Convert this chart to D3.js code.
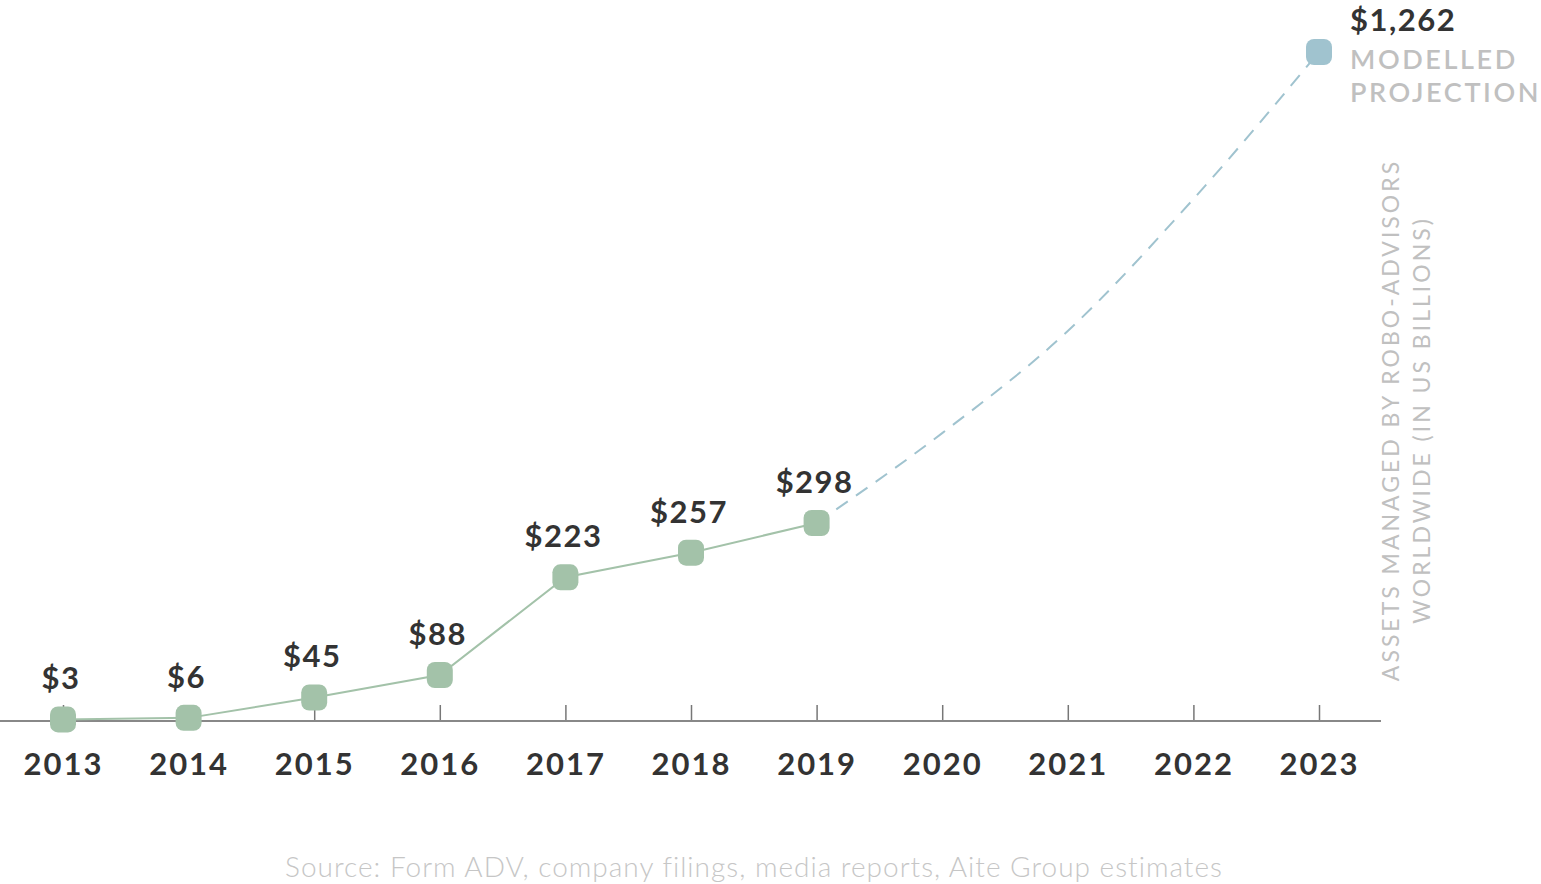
<!DOCTYPE html>
<html>
<head>
<meta charset="utf-8">
<script src="https://cdn.jsdelivr.net/npm/d3@7/dist/d3.min.js"></script>
<style>
  html, body { margin: 0; padding: 0; background: #ffffff; }
  svg { display: block; }
</style>
</head>
<body>
<svg id="chart" width="1541" height="884"></svg>
<script>
// ---- data ----
const years = [2013, 2014, 2015, 2016, 2017, 2018, 2019, 2020, 2021, 2022, 2023];
const actualYears = [2013, 2014, 2015, 2016, 2017, 2018, 2019];
const actualValues = [3, 6, 45, 88, 223, 257, 298];
const projectionYears = [2019, 2020, 2021, 2022, 2023];
const projectionValues = [298, 482, 691, 961, 1262];
const projectionLabel = ["MODELLED", "PROJECTION"];
const yTitleLines = ["ASSETS MANAGED BY ROBO-ADVISORS", "WORLDWIDE (IN US BILLIONS)"];
const sourceText = "Source: Form ADV, company filings, media reports, Aite Group estimates";

const fmt = v => "$" + d3.format(",")(v);

const svg = d3.select("#chart");

// ---- scales ----
const x = d3.scalePoint().domain(years).range([63, 1319]);
// chart is not drawn to a single linear scale; piecewise scale calibrated to the original
const y = d3.scaleLinear().domain([0, 88, 298, 1262]).range([721, 675, 523, 52]);

const green = "#a3c2a9";
const blue = "#a0c3cf";
const dark = "#333333";
const grey = "#c0c0c0";

// ---- axis ----
const axis = d3.axisBottom(x).tickSize(0).tickPadding(0).tickFormat(d => d);
const gAxis = svg.append("g").attr("transform", "translate(0,721)").call(axis);
gAxis.select(".domain").remove();
gAxis.selectAll(".tick line").remove();
gAxis.selectAll(".tick").append("line")
  .attr("y1", -16).attr("y2", 0)
  .attr("stroke", "#777").attr("stroke-width", 1.5);
gAxis.selectAll(".tick text")
  .attr("y", 54).attr("dy", null)
  .attr("font-family", "Lato, sans-serif")
  .attr("font-weight", 700)
  .attr("font-size", 31)
  .attr("letter-spacing", 2)
  .attr("fill", dark)
  .attr("text-anchor", "middle");
svg.append("line")
  .attr("x1", 0).attr("x2", 1381).attr("y1", 721).attr("y2", 721)
  .attr("stroke", "#888").attr("stroke-width", 2);

// ---- projection (dashed) ----
const projData = projectionYears.map((yr, i) => ({ yr, v: projectionValues[i] }));
svg.append("path")
  .datum(projData)
  .attr("fill", "none")
  .attr("stroke", blue)
  .attr("stroke-width", 2)
  .attr("stroke-dasharray", "14,10")
  .attr("d", d3.line().x(d => x(d.yr)).y(d => y(d.v)).curve(d3.curveMonotoneX));

// ---- actual line ----
const actData = actualYears.map((yr, i) => ({ yr, v: actualValues[i] }));
svg.append("path")
  .datum(actData)
  .attr("fill", "none")
  .attr("stroke", green)
  .attr("stroke-width", 2)
  .attr("d", d3.line().x(d => x(d.yr)).y(d => y(d.v)));

// ---- markers ----
const ms = 26;
svg.selectAll("rect.act").data(actData).join("rect")
  .attr("class", "act")
  .attr("x", d => x(d.yr) - ms / 2).attr("y", d => y(d.v) - ms / 2)
  .attr("width", ms).attr("height", ms).attr("rx", 8).attr("ry", 8)
  .attr("fill", green);

const last = projData[projData.length - 1];
svg.append("rect")
  .attr("x", x(last.yr) - ms / 2).attr("y", y(last.v) - ms / 2)
  .attr("width", ms).attr("height", ms).attr("rx", 8).attr("ry", 8)
  .attr("fill", blue);

// ---- value labels ----
svg.selectAll("text.val").data(actData).join("text")
  .attr("class", "val")
  .attr("x", d => x(d.yr) - 2)
  .attr("y", d => y(d.v) - 30)
  .attr("text-anchor", "middle")
  .attr("font-family", "Lato, sans-serif")
  .attr("font-weight", 700)
  .attr("font-size", 31)
  .attr("letter-spacing", 1.5)
  .attr("fill", dark)
  .text(d => fmt(d.v));

svg.append("text")
  .attr("x", x(last.yr) + 31)
  .attr("y", y(last.v) - 21)
  .attr("font-family", "Lato, sans-serif")
  .attr("font-weight", 700)
  .attr("font-size", 31)
  .attr("letter-spacing", 1.5)
  .attr("fill", dark)
  .text(fmt(last.v));

svg.selectAll("text.proj").data(projectionLabel).join("text")
  .attr("class", "proj")
  .attr("x", x(last.yr) + 31)
  .attr("y", (d, i) => y(last.v) + 17 + i * 33)
  .attr("font-family", "Lato, sans-serif")
  .attr("font-weight", 600)
  .attr("font-size", 27)
  .attr("letter-spacing", 2.6)
  .attr("fill", grey)
  .text(d => d);

// ---- rotated y title ----
svg.selectAll("text.ytitle").data(yTitleLines).join("text")
  .attr("class", "ytitle")
  .attr("transform", (d, i) => `translate(${1399 + i * 31},420) rotate(-90)`)
  .attr("text-anchor", "middle")
  .attr("font-family", "Lato, sans-serif")
  .attr("font-weight", 400)
  .attr("font-size", 23)
  .attr("letter-spacing", 3.0)
  .attr("fill", grey)
  .text(d => d);

// ---- source ----
svg.append("text")
  .attr("x", 754).attr("y", 877)
  .attr("text-anchor", "middle")
  .attr("font-family", "Lato, sans-serif")
  .attr("font-weight", 300)
  .attr("font-size", 28)
  .attr("letter-spacing", 1)
  .attr("fill", "#c6c6c6")
  .text(sourceText);
</script>
</body>
</html>
